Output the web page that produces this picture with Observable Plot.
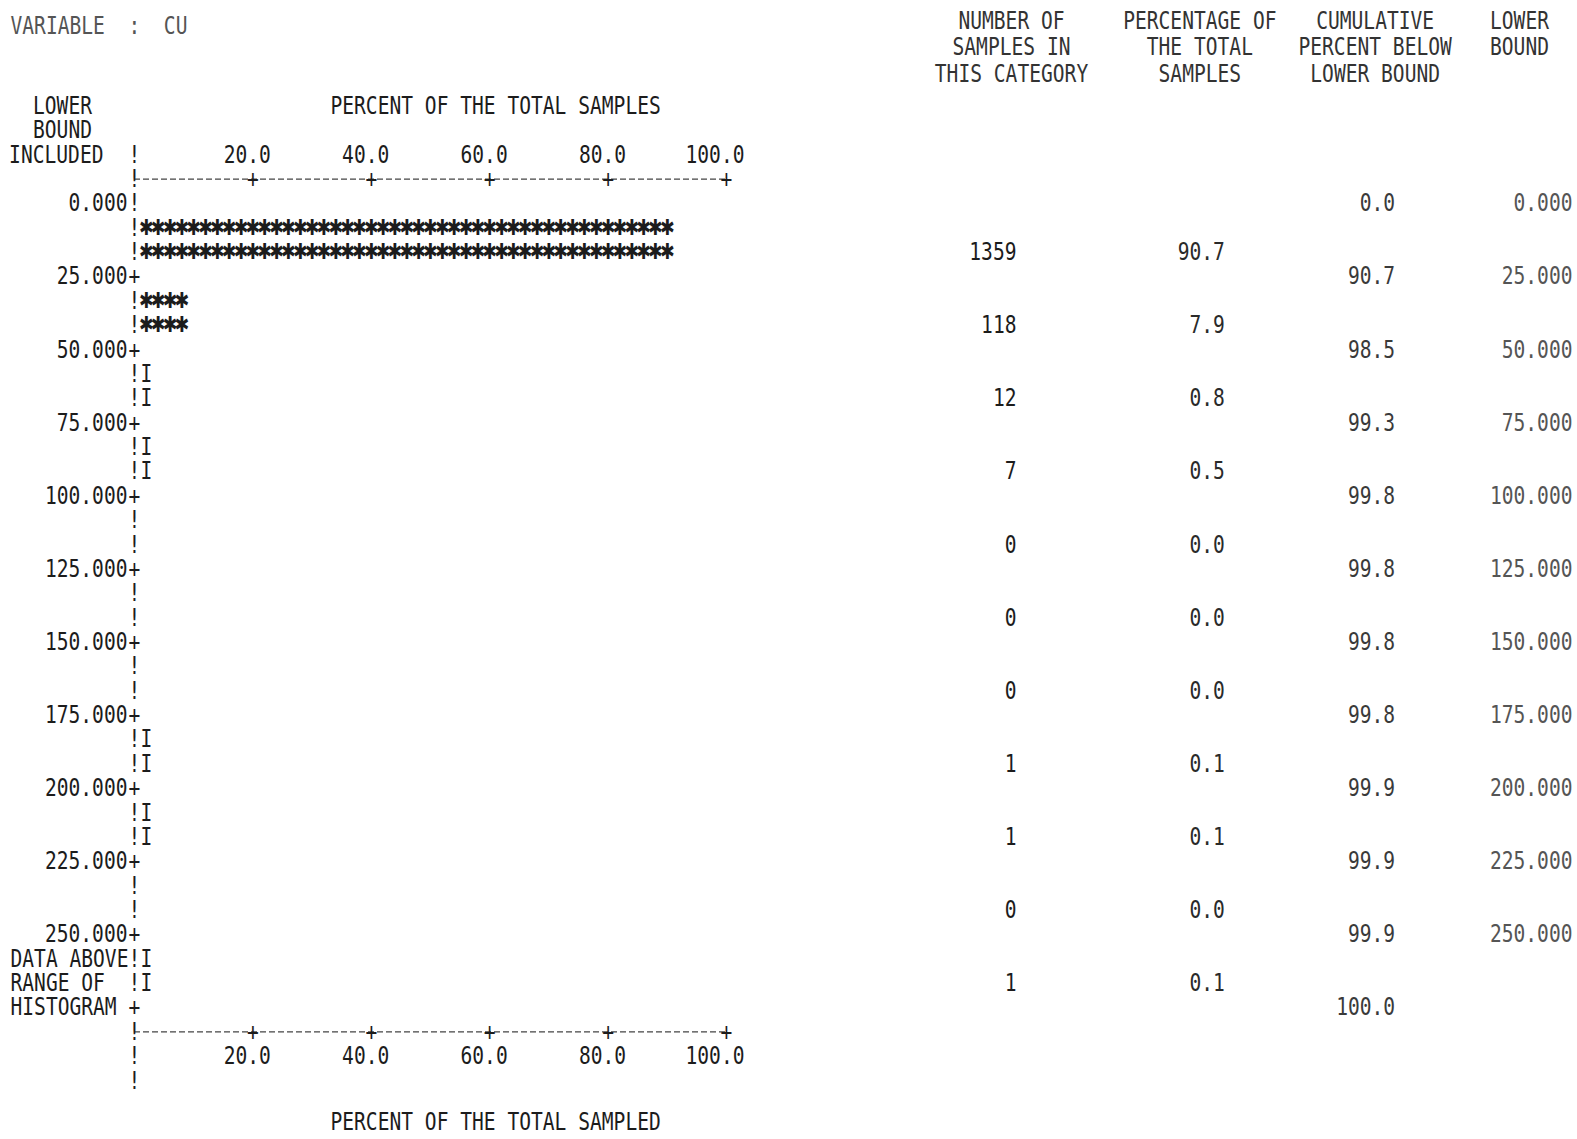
<!DOCTYPE html>
<html>
<head>
<meta charset="utf-8">
<script src="https://cdn.jsdelivr.net/npm/d3@7"></script>
<script src="https://cdn.jsdelivr.net/npm/@observablehq/plot@0.6"></script>
<style>
  html, body { margin: 0; padding: 0; background: #fff; }
  #page { position: relative; width: 1577px; height: 1139px; overflow: hidden; background: #fff; }
  #page svg { position: absolute; left: 0; top: 0; }
</style>
</head>
<body>
<div id="page"></div>
<script>
// Histogram of variable CU: class lower bounds, counts and percentages
const variableName = "CU";
const lowerBounds = [0, 25, 50, 75, 100, 125, 150, 175, 200, 225];
const upperLimit = 250;
const sampleCounts = [1359, 118, 12, 7, 0, 0, 0, 1, 1, 0];
const samplePercents = [90.7, 7.9, 0.8, 0.5, 0.0, 0.0, 0.0, 0.1, 0.1, 0.0];
const aboveCount = 1;
const abovePercent = 0.1;
// cumulative percent below each lower bound (0 … 250), then the grand total
const cumulativeBelow = [0.0, 90.7, 98.5, 99.3, 99.8, 99.8, 99.8, 99.8, 99.9, 99.9, 99.9];
const cumulativeTotal = 100.0;
const percentTicks = [20, 40, 60, 80, 100];

const tableColumns = ["count", "percent", "cumulative", "bound"];
const tableHeaders = [
  ["NUMBER OF", "SAMPLES IN", "THIS CATEGORY"],
  ["PERCENTAGE OF", "THE TOTAL", "SAMPLES"],
  ["CUMULATIVE", "PERCENT BELOW", "LOWER BOUND"],
  ["LOWER", "BOUND"]
];

// One printer line, in lower-bound units (three lines per class)
const LINE = 25 / 3;
const ln = (L) => L * LINE;
const fmtBound = d3.format(".3f");
const fmtPct = d3.format(".1f");
const boundaries = [...lowerBounds, upperLimit];

const classes = lowerBounds.map((b, k) => ({bound: b, count: sampleCounts[k], percent: samplePercents[k]}));
classes.push({bound: upperLimit, count: aboveCount, percent: abovePercent});

// Each printed symbol stands for 2 percent; a non-empty class too small for one gets an "I"
const symbols = [];
for (const c of classes) {
  const n = Math.round(c.percent / 2);
  for (const r of [1, 2]) {
    if (n > 0) for (let i = 1; i <= n; ++i) symbols.push({x: 2 * i, y: c.bound + ln(r), s: "\u2731"});
    else if (c.count > 0) symbols.push({x: 2, y: c.bound + ln(r), s: "I"});
  }
}

// The vertical axis column: "+" at each class boundary, "!" elsewhere
const axisColumn = d3.range(-2, 37).map((L) => ({
  y: ln(L),
  s: L > 0 && L <= 33 && L % 3 === 0 ? "+" : "!"
}));

const textColor = "#1c1c1c";
const yScale = {domain: [0, upperLimit], range: [203, 934]};

const label = (t, line, opts) => Plot.text([t], {x: () => 0, y: () => ln(line), text: (d) => d, ...opts});

const hist = Plot.plot({
  width: 1577,
  height: 1139,
  margin: 0,
  x: {domain: [0, 100], range: [134, 726], axis: null},
  y: {...yScale, axis: null},
  style: {fontFamily: "DejaVu Sans Mono", fontSize: "20px", color: textColor, background: "transparent"},
  marks: [
    // headings
    label(`VARIABLE  :  ${variableName}`, -7.3, {textAnchor: "start", dx: -124, fill: "#555"}),
    label("PERCENT OF THE TOTAL SAMPLES", -4, {x: () => 61}),
    label("LOWER", -4, {dx: -72}),
    label("BOUND", -3, {dx: -72}),
    label("INCLUDED", -2, {textAnchor: "end", dx: -31}),
    label("DATA ABOVE", 31, {textAnchor: "start", dx: -124}),
    label("RANGE OF", 32, {textAnchor: "start", dx: -124}),
    label("HISTOGRAM", 33, {textAnchor: "start", dx: -124}),
    label("PERCENT OF THE TOTAL SAMPLED", 37.7, {x: () => 61}),

    // top and bottom percent axes
    Plot.ruleY([ln(-1), upperLimit + ln(4)], {x1: 0, x2: 100, stroke: "#444", strokeWidth: 1.3, strokeDasharray: "6,3"}),
    Plot.text(percentTicks, {x: (d) => d, y: () => ln(-1), text: () => "+"}),
    Plot.text(percentTicks, {x: (d) => d, y: () => upperLimit + ln(4), text: () => "+"}),
    Plot.text(percentTicks, {x: (d) => d, y: () => ln(-2), text: (d) => fmtPct(d), textAnchor: "end", dx: 18}),
    Plot.text(percentTicks, {x: (d) => d, y: () => upperLimit + ln(5), text: (d) => fmtPct(d), textAnchor: "end", dx: 18}),

    // vertical axis and class boundary labels
    Plot.text(axisColumn, {x: () => 0, y: "y", text: "s"}),
    Plot.text(boundaries, {x: () => 0, y: (d) => d, text: (d) => fmtBound(d), textAnchor: "end", dx: -7}),

    // the bars
    Plot.text(symbols.filter((d) => d.s !== "I"), {x: "x", y: "y", text: "s", fontSize: 18, fontWeight: "bold", fontFamily: "DejaVu Sans"}),
    Plot.text(symbols.filter((d) => d.s === "I"), {x: "x", y: "y", text: "s"})
  ]
});

// Table of counts, percentages and cumulative percentages
const headerLines = [-7.5, -6.4, -5.3];
// offsets from each column's point: header centres and right edges of the values
const headerOffset = {count: 0, percent: 19, cumulative: 25, bound: 0};
const valueOffset = {count: 5, percent: 44, cumulative: 45, bound: 53};
const headerRows = tableHeaders.flatMap((rows, c) =>
  rows.map((t, r) => ({col: tableColumns[c], y: ln(headerLines[r]), t}))
);
const countRows = classes.map((c) => ({y: c.bound + ln(2), t: String(c.count)}));
const percentRows = classes.map((c) => ({y: c.bound + ln(2), t: fmtPct(c.percent)}));
const cumulativeRows = boundaries.map((b, k) => ({y: b, t: fmtPct(cumulativeBelow[k])}))
  .concat([{y: upperLimit + ln(3), t: fmtPct(cumulativeTotal)}]);
const boundRows = boundaries.map((b) => ({y: b, t: fmtBound(b)}));

const headerMark = (col) =>
  Plot.text(headerRows.filter((d) => d.col === col), {x: "col", y: "y", text: "t", dx: headerOffset[col], fill: "#333"});
const valueMark = (rows, col, fill) =>
  Plot.text(rows, {x: () => col, y: "y", text: "t", textAnchor: "end", dx: valueOffset[col], fill});

const table = Plot.plot({
  width: 1577,
  height: 1139,
  margin: 0,
  x: {type: "point", domain: tableColumns, range: [1011, 1519], padding: 0, round: false, axis: null},
  y: {...yScale, axis: null},
  style: {fontFamily: "DejaVu Sans Mono", fontSize: "20px", color: textColor, background: "transparent"},
  marks: [
    ...tableColumns.map(headerMark),
    valueMark(countRows, "count", "#1c1c1c"),
    valueMark(percentRows, "percent", "#2a2a2a"),
    valueMark(cumulativeRows, "cumulative", "#3a3a3a"),
    valueMark(boundRows, "bound", "#555")
  ]
});

// Narrow, tall printer glyphs: each text already sits at its anchor via translate,
// so a trailing scale keeps the anchor fixed
function condense(svg) {
  for (const t of svg.querySelectorAll("text")) {
    const tr = t.getAttribute("transform") || "";
    t.setAttribute("transform", `${tr} scale(0.98,1.23)`);
  }
}
condense(hist);
condense(table);

const page = document.getElementById("page");
page.append(hist, table);
</script>
</body>
</html>
